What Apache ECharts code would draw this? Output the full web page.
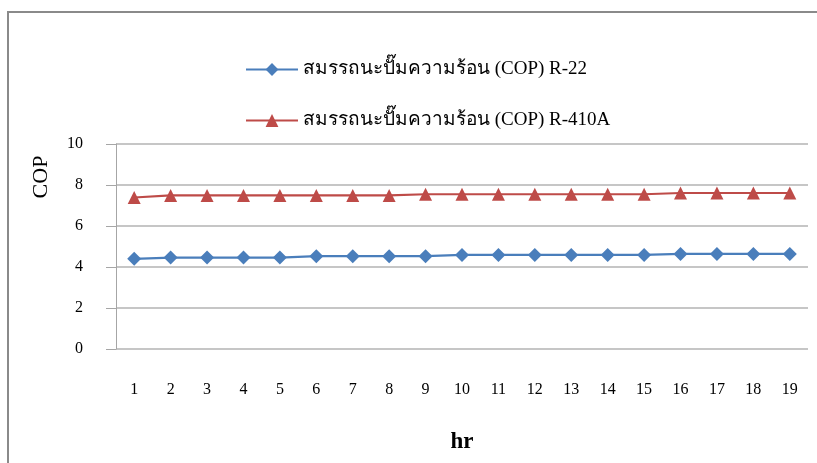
<!DOCTYPE html>
<html>
<head>
<meta charset="utf-8">
<script src="https://cdn.jsdelivr.net/npm/echarts@6/dist/echarts.min.js"></script>
<style>
  html, body { margin: 0; padding: 0; background: #fff; }
  #chart { width: 817px; height: 463px; }
</style>
</head>
<body>
<div id="chart"></div>
<script>
// Hours on the x axis
const hours = ['1','2','3','4','5','6','7','8','9','10','11','12','13','14','15','16','17','18','19'];
// Heat-pump COP per hour for each refrigerant
const copR22 = [4.40, 4.46, 4.46, 4.46, 4.46, 4.53, 4.53, 4.53, 4.53, 4.59, 4.59, 4.59, 4.59, 4.59, 4.59, 4.64, 4.64, 4.64, 4.64];
const copR410A = [7.39, 7.49, 7.49, 7.49, 7.49, 7.49, 7.49, 7.49, 7.55, 7.55, 7.55, 7.55, 7.55, 7.55, 7.55, 7.61, 7.61, 7.61, 7.61];
const seriesNames = ['สมรรถนะปั๊มความร้อน (COP) R-22', 'สมรรถนะปั๊มความร้อน (COP) R-410A'];

const serif = '"Liberation Serif", "DejaVu Serif", serif';
const chart = echarts.init(document.getElementById('chart'));
chart.setOption({
  animation: false,
  backgroundColor: '#fff',
  graphic: [
    // frame lines along the top and left edges
    { type: 'rect', shape: { x: 7, y: 11, width: 2, height: 460 }, style: { fill: '#8a8a8a' } },
    { type: 'rect', shape: { x: 7, y: 11, width: 820, height: 2 }, style: { fill: '#8a8a8a' } },
    // y axis title
    {
      type: 'text', x: 41, y: 177, rotation: Math.PI / 2,
      style: { text: 'COP', fontFamily: serif, fontSize: 22, fill: '#000', align: 'center', verticalAlign: 'middle' }
    }
  ],
  legend: {
    orient: 'vertical',
    left: 245,
    top: 60,
    padding: 0,
    itemWidth: 52,
    itemHeight: 16,
    itemGap: 32,
    textStyle: { fontFamily: serif, fontSize: 19, color: '#000' },
    data: seriesNames
  },
  grid: { left: 116, right: 9, top: 144, bottom: 114, containLabel: false, outerBoundsMode: 'none' },
  xAxis: {
    type: 'category',
    data: hours,
    boundaryGap: true,
    name: 'hr',
    nameLocation: 'middle',
    nameGap: 82,
    nameTextStyle: { fontFamily: serif, fontSize: 23, fontWeight: 'bold', color: '#000' },
    axisLine: { show: false },
    axisTick: { show: false },
    axisLabel: { margin: 33, fontFamily: serif, fontSize: 16, color: '#000' }
  },
  yAxis: {
    type: 'value',
    min: 0,
    max: 10,
    interval: 2,
    axisLine: { show: true, lineStyle: { color: '#a6a6a6', width: 1 } },
    axisTick: { show: true, inside: false, length: 10, lineStyle: { color: '#a6a6a6' } },
    axisLabel: { margin: 33, fontFamily: serif, fontSize: 16, color: '#000' },
    splitLine: { lineStyle: { color: '#b3b3b3', width: 1.5 } }
  },
  series: [
    {
      name: seriesNames[0],
      type: 'line',
      data: copR22,
      symbol: 'diamond',
      symbolSize: 14,
      color: '#4a7ebb',
      lineStyle: { width: 2.2, color: '#4a7ebb' },
      itemStyle: { color: '#4a7ebb' }
    },
    {
      name: seriesNames[1],
      type: 'line',
      data: copR410A,
      symbol: 'triangle',
      symbolSize: 13,
      color: '#be4b48',
      lineStyle: { width: 2.2, color: '#be4b48' },
      itemStyle: { color: '#be4b48' }
    }
  ]
});
</script>
</body>
</html>
